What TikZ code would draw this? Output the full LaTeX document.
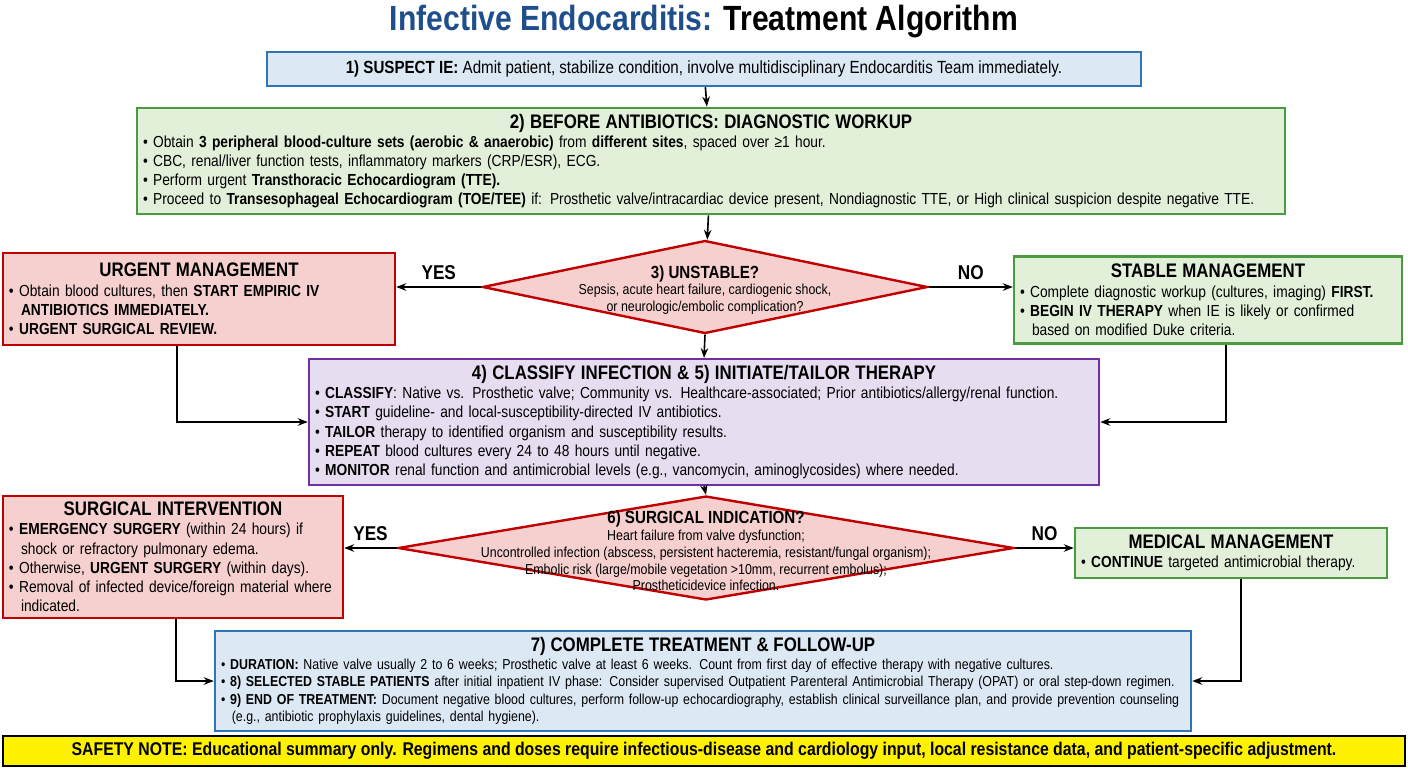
\documentclass[tikz,border=0pt]{standalone}
\usepackage{fontspec}
\setmainfont{Liberation Sans}[FakeStretch=0.86]
\usetikzlibrary{arrows.meta,positioning,shapes.geometric}
\definecolor{ieblue}{HTML}{1F4E8C}
\definecolor{bxblue}{HTML}{2E75B6}
\definecolor{flblue}{HTML}{DCE9F5}
\definecolor{bxgreen}{HTML}{4A9A3F}
\definecolor{flgreen}{HTML}{E2EFD9}
\definecolor{bxred}{HTML}{C00000}
\definecolor{flred}{HTML}{F5D0CE}
\definecolor{bxpurple}{HTML}{7030A0}
\definecolor{flpurple}{HTML}{E6DDF0}
\newcommand{\hd}[1]{{\centering\bfseries\fontsize{9.8}{11.5}\selectfont #1\par}}
\newcommand{\itm}{\par\hyphenpenalty=10000\exhyphenpenalty=10000\hangindent=0.75em\hangafter=1\textbullet\ }
\begin{document}
\begin{tikzpicture}[x=0.5pt,y=-0.5pt,
  box/.style = {draw, line width=1.2pt, inner sep=3pt, align=left,
    font=\fontsize{8}{9.6}\selectfont},
  bluebox/.style = {box, draw=bxblue, fill=flblue},
  greenbox/.style = {box, draw=bxgreen, fill=flgreen},
  redbox/.style = {box, draw=bxred, fill=flred},
  purplebox/.style = {box, draw=bxpurple, fill=flpurple},
  dia/.style = {diamond, draw=bxred, fill=flred, line width=1.2pt, inner sep=0pt},
  diatext/.style = {align=center, font=\fontsize{7.2}{8.4}\selectfont},
  yn/.style = {font=\bfseries\fontsize{10}{12}\selectfont},
  arr/.style = {-{Stealth[length=5pt]}, line width=0.8pt}]
\useasboundingbox (0,0) rectangle (1408,768);
% title
\node (title) at (704,22) {\bfseries\fontsize{17.5}{20}\selectfont\textcolor{ieblue}{Infective Endocarditis:} Treatment Algorithm};
% boxes
\node[bluebox, minimum width=437pt, minimum height=17pt, align=center] (suspect) at (704,69)
  {\fontsize{8.8}{10}\selectfont\textbf{1) SUSPECT IE:} Admit patient, stabilize condition, involve multidisciplinary Endocarditis Team immediately.};
\node[greenbox, text width=568pt, minimum height=52pt] (workup) at (711,161)
  {\hd{2) BEFORE ANTIBIOTICS: DIAGNOSTIC WORKUP}
   \itm Obtain \textbf{3 peripheral blood-culture sets (aerobic \& anaerobic)} from \textbf{different sites}, spaced over ≥1 hour.
   \itm CBC, renal/liver function tests, inflammatory markers (CRP/ESR), ECG.
   \itm Perform urgent \textbf{Transthoracic Echocardiogram (TTE).}
   \itm Proceed to \textbf{Transesophageal Echocardiogram (TOE/TEE)} if: Prosthetic valve/intracardiac device present, Nondiagnostic TTE, or High clinical suspicion despite negative TTE.\par};
\node[dia, minimum width=222.5pt, minimum height=46.5pt] (unstable) at (705,287) {};
\node[diatext] (unstablet) at (705,290)
  {{\bfseries\fontsize{8.8}{10}\selectfont 3) UNSTABLE?}\\Sepsis, acute heart failure, cardiogenic shock,\\or neurologic/embolic complication?};
\node[redbox, text width=190pt, minimum height=46pt] (urgent) at (199,299)
  {\hd{URGENT MANAGEMENT}
   \itm Obtain blood cultures, then \textbf{START EMPIRIC IV ANTIBIOTICS IMMEDIATELY.}
   \itm \textbf{URGENT SURGICAL REVIEW.}\par};
\node[greenbox, text width=188pt, minimum height=43.5pt] (stable) at (1208,300)
  {\hd{STABLE MANAGEMENT}
   \itm Complete diagnostic workup (cultures, imaging) \textbf{FIRST.}
   \itm \textbf{BEGIN IV THERAPY} when IE is likely or confirmed based on modified Duke criteria.\par};
\node[purplebox, text width=389pt, minimum height=62pt] (classify) at (704,422)
  {\hd{4) CLASSIFY INFECTION \& 5) INITIATE/TAILOR THERAPY}
   \itm \textbf{CLASSIFY}: Native vs. Prosthetic valve; Community vs. Healthcare-associated; Prior antibiotics/allergy/renal function.
   \itm \textbf{START} guideline- and local-susceptibility-directed IV antibiotics.
   \itm \textbf{TAILOR} therapy to identified organism and susceptibility results.
   \itm \textbf{REPEAT} blood cultures every 24 to 48 hours until negative.
   \itm \textbf{MONITOR} renal function and antimicrobial levels (e.g., vancomycin, aminoglycosides) where needed.\par};
\node[dia, minimum width=308pt, minimum height=52pt] (surgind) at (706,548) {};
\node[diatext] (surgindt) at (706,551)
  {{\bfseries\fontsize{8.8}{10}\selectfont 6) SURGICAL INDICATION?}\\Heart failure from valve dysfunction;\\Uncontrolled infection (abscess, persistent hacteremia, resistant/fungal organism);\\Embolic risk (large/mobile vegetation >10mm, recurrent embolus);\\Prostheticidevice infection.};
\node[redbox, text width=164pt, minimum height=57pt] (surgical) at (173,557)
  {\hd{SURGICAL INTERVENTION}
   \itm \textbf{EMERGENCY SURGERY} (within 24 hours) if shock or refractory pulmonary edema.
   \itm Otherwise, \textbf{URGENT SURGERY} (within days).
   \itm Removal of infected device/foreign material where indicated.\par};
\node[greenbox, text width=150pt, minimum height=25pt] (medical) at (1231,553)
  {\hd{MEDICAL MANAGEMENT}
   \itm \textbf{CONTINUE} targeted antimicrobial therapy.\par};
\node[bluebox, text width=482pt, minimum height=49pt, font=\fontsize{7.2}{8.8}\selectfont] (complete) at (703,681)
  {\hd{7) COMPLETE TREATMENT \& FOLLOW-UP}
   \itm \textbf{DURATION:} Native valve usually 2 to 6 weeks; Prosthetic valve at least 6 weeks. Count from first day of effective therapy with negative cultures.
   \itm \textbf{8) SELECTED STABLE PATIENTS} after initial inpatient IV phase: Consider supervised Outpatient Parenteral Antimicrobial Therapy (OPAT) or oral step-down regimen.
   \itm \textbf{9) END OF TREATMENT:} Document negative blood cultures, perform follow-up echocardiography, establish clinical surveillance plan, and provide prevention counseling (e.g., antibiotic prophylaxis guidelines, dental hygiene).\par};
\node[draw=black, line width=1pt, fill=yellow, minimum width=701pt, minimum height=15pt, inner sep=1pt,
  font=\bfseries\fontsize{9.2}{10}\selectfont] (safety) at (704,751)
  {SAFETY NOTE: Educational summary only. Regimens and doses require infectious-disease and cardiology input, local resistance data, and patient-specific adjustment.};
% connectors
\draw[arr] (suspect) -- (workup);
\draw[arr] (workup) -- (unstable);
\draw[arr] (unstable.west) -- (unstable.west -| urgent.east) node[yn, midway, above] {YES};
\draw[arr] (unstable.east) -- (unstable.east -| stable.west) node[yn, midway, above] {NO};
\draw[arr] (unstable.south) -- (classify.north);
\draw[arr] (urgent.south -| 177,0) |- (classify.west);
\draw[arr] (stable.south -| 1226,0) |- (classify.east);
\draw[arr] (classify.south) -- (surgind.north);
\draw[arr] (surgind.west) -- (surgind.west -| surgical.east) node[yn, midway, above] {YES};
\draw[arr] (surgind.east) -- (surgind.east -| medical.west) node[yn, midway, above] {NO};
\draw[arr] (surgical.south -| 176,0) |- (complete.west);
\draw[arr] (medical.south -| 1241,0) |- (complete.east);
\end{tikzpicture}
\end{document}
